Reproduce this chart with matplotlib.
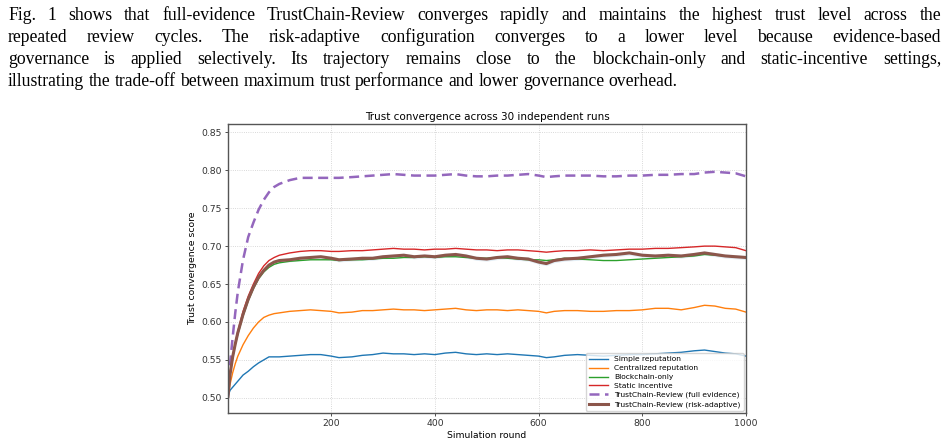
import matplotlib
matplotlib.use("Agg")
import matplotlib.pyplot as plt
import numpy as np

# paragraph above the figure
para_lines = [
    "Fig. 1 shows that full-evidence TrustChain-Review converges rapidly and maintains the highest trust level across the",
    "repeated review cycles. The risk-adaptive configuration converges to a lower level because evidence-based",
    "governance is applied selectively. Its trajectory remains close to the blockchain-only and static-incentive settings,",
    "illustrating the trade-off between maximum trust performance and lower governance overhead.",
]

title = "Trust convergence across 30 independent runs"
xlabel = "Simulation round"
ylabel = "Trust convergence score"

rounds = [1, 5, 10, 15, 20, 30, 40, 50, 60, 70, 80, 90, 100, 120, 140, 160, 180, 200,
          215, 240, 260, 280, 300, 320, 340, 360, 380, 400, 420, 440, 460, 480, 500,
          520, 540, 560, 580, 600, 615, 630, 650, 675, 700, 725, 750, 775, 800, 825,
          850, 875, 900, 920, 940, 960, 980, 1000]

simple_rep = [0.502, 0.510, 0.514, 0.518, 0.522, 0.530, 0.535, 0.541, 0.546, 0.550, 0.554,
              0.554, 0.554, 0.555, 0.556, 0.557, 0.557, 0.555, 0.553, 0.554, 0.556, 0.557,
              0.559, 0.558, 0.558, 0.557, 0.558, 0.557, 0.559, 0.560, 0.558, 0.557, 0.558,
              0.557, 0.558, 0.557, 0.556, 0.555, 0.553, 0.554, 0.556, 0.557, 0.556, 0.555,
              0.556, 0.557, 0.557, 0.558, 0.559, 0.560, 0.562, 0.563, 0.561, 0.559, 0.558,
              0.555]

central_rep = [0.502, 0.518, 0.533, 0.545, 0.555, 0.570, 0.582, 0.592, 0.600, 0.606, 0.609,
               0.611, 0.612, 0.614, 0.615, 0.616, 0.615, 0.614, 0.612, 0.613, 0.615, 0.615,
               0.616, 0.617, 0.616, 0.616, 0.615, 0.616, 0.617, 0.618, 0.616, 0.615, 0.616,
               0.616, 0.615, 0.616, 0.615, 0.614, 0.612, 0.614, 0.615, 0.615, 0.614, 0.614,
               0.615, 0.615, 0.616, 0.618, 0.618, 0.616, 0.619, 0.622, 0.621, 0.618, 0.617,
               0.613]

blockchain_only = [0.502, 0.530, 0.553, 0.570, 0.584, 0.608, 0.628, 0.644, 0.657, 0.666, 0.672,
                   0.676, 0.678, 0.680, 0.681, 0.682, 0.682, 0.682, 0.681, 0.682, 0.682, 0.683,
                   0.684, 0.684, 0.685, 0.685, 0.686, 0.685, 0.686, 0.686, 0.685, 0.684, 0.684,
                   0.685, 0.684, 0.683, 0.682, 0.682, 0.681, 0.682, 0.684, 0.683, 0.682, 0.681,
                   0.681, 0.682, 0.683, 0.684, 0.685, 0.686, 0.687, 0.689, 0.688, 0.687, 0.686,
                   0.685]

static_incentive = [0.502, 0.533, 0.554, 0.572, 0.588, 0.614, 0.634, 0.650, 0.664, 0.674, 0.681,
                    0.685, 0.688, 0.691, 0.693, 0.694, 0.694, 0.693, 0.693, 0.694, 0.694, 0.695,
                    0.696, 0.697, 0.696, 0.696, 0.695, 0.696, 0.696, 0.697, 0.696, 0.695, 0.695,
                    0.694, 0.695, 0.695, 0.694, 0.693, 0.692, 0.693, 0.694, 0.694, 0.695, 0.694,
                    0.695, 0.696, 0.696, 0.697, 0.697, 0.698, 0.699, 0.700, 0.700, 0.699, 0.698,
                    0.694]

tcr_full = [0.502, 0.545, 0.580, 0.612, 0.640, 0.682, 0.712, 0.731, 0.748, 0.761, 0.771,
            0.778, 0.782, 0.787, 0.790, 0.790, 0.790, 0.790, 0.790, 0.791, 0.792, 0.793,
            0.794, 0.795, 0.794, 0.793, 0.793, 0.793, 0.794, 0.795, 0.793, 0.792, 0.792,
            0.793, 0.793, 0.794, 0.795, 0.793, 0.791, 0.792, 0.793, 0.793, 0.793, 0.792,
            0.792, 0.793, 0.793, 0.794, 0.794, 0.795, 0.795, 0.797, 0.798, 0.797, 0.796,
            0.792]

tcr_risk = [0.502, 0.531, 0.554, 0.571, 0.586, 0.610, 0.630, 0.646, 0.659, 0.668, 0.675,
            0.679, 0.681, 0.682, 0.684, 0.685, 0.686, 0.684, 0.682, 0.683, 0.684, 0.684,
            0.686, 0.687, 0.688, 0.686, 0.687, 0.686, 0.688, 0.689, 0.687, 0.684, 0.683,
            0.685, 0.686, 0.684, 0.683, 0.679, 0.677, 0.681, 0.683, 0.684, 0.686, 0.688,
            0.689, 0.691, 0.688, 0.687, 0.688, 0.687, 0.689, 0.691, 0.689, 0.687, 0.686,
            0.685]

W, H = 948, 446
fig = plt.figure(figsize=(W / 100, H / 100), dpi=100)
renderer = fig.canvas.get_renderer()

serif = ["Liberation Serif", "DejaVu Serif"]


def word_widths(words, fs):
    ts = [fig.text(0, 0, w, fontsize=fs, family=serif) for w in words]
    ws = [t.get_window_extent(renderer).width for t in ts]
    for t in ts:
        t.remove()
    return ws


def natural_width(words, fs):
    space = 0.25 * fs * 100 / 72
    return sum(word_widths(words, fs)) + space * (len(words) - 1)


# size chosen so the short last line ends about where it does in the scan
left_px, right_px = 8, 941
last = para_lines[-1].split()
lo, hi = 9.0, 18.0
for _ in range(25):
    mid = (lo + hi) / 2
    if natural_width(last, mid) > 672:
        hi = mid
    else:
        lo = mid
pfs = lo

# justified paragraph, word by word
baselines = [20, 42, 64, 86]
for i, line in enumerate(para_lines):
    words = line.split()
    widths = word_widths(words, pfs)
    if i < len(para_lines) - 1:
        gap = (right_px - left_px - sum(widths)) / (len(words) - 1)
    else:
        gap = 0.25 * pfs * 100 / 72
    x = left_px
    y = 1 - baselines[i] / H
    for w, wd in zip(words, widths):
        fig.text(x / W, y, w, fontsize=pfs, family=serif, va="baseline", ha="left")
        x += wd + gap

ax = fig.add_axes([228 / W, 1 - 413 / H, (746 - 228) / W, (413 - 124) / H])

r = np.array(rounds)
risk = np.array(tcr_risk)
ax.fill_between(r, risk - 0.0028, risk + 0.0028, color="#1f77b4", alpha=0.12, lw=0)
ax.plot(r, simple_rep, color="#1f77b4", lw=1.0, label="Simple reputation")
ax.plot(r, central_rep, color="#ff7f0e", lw=1.0, label="Centralized reputation")
ax.plot(r, blockchain_only, color="#2ca02c", lw=1.0, label="Blockchain-only")
ax.plot(r, static_incentive, color="#d62728", lw=1.0, label="Static incentive")
ax.plot(r, tcr_full, color="#9467bd", lw=1.8, ls=(0, (4, 2.2)),
        label="TrustChain-Review (full evidence)")
ax.plot(r, tcr_risk, color="#8c564b", lw=2.2, label="TrustChain-Review (risk-adaptive)")

ax.set_xlim(1, 1000)
ax.set_ylim(0.48, 0.861)
ax.set_xticks([200, 400, 600, 800, 1000])
ax.set_yticks([0.50, 0.55, 0.60, 0.65, 0.70, 0.75, 0.80, 0.85])
ax.grid(True, color="#cccccc", ls=":", lw=0.6)
ax.tick_params(labelsize=6.7, length=2.5, width=0.6, pad=2, colors="#333333")
for s in ax.spines.values():
    s.set_color("#555555")
    s.set_linewidth(1.0)

ax.set_title(title, fontsize=7.5, pad=3)
ax.set_xlabel(xlabel, fontsize=6.7, labelpad=2)
ax.set_ylabel(ylabel, fontsize=6.7, labelpad=3)
ax.legend(loc="lower right", fontsize=5.4, handlelength=2.6, borderaxespad=0.3,
          labelspacing=0.35, framealpha=0.8)

fig.savefig("out.png", dpi=100)
